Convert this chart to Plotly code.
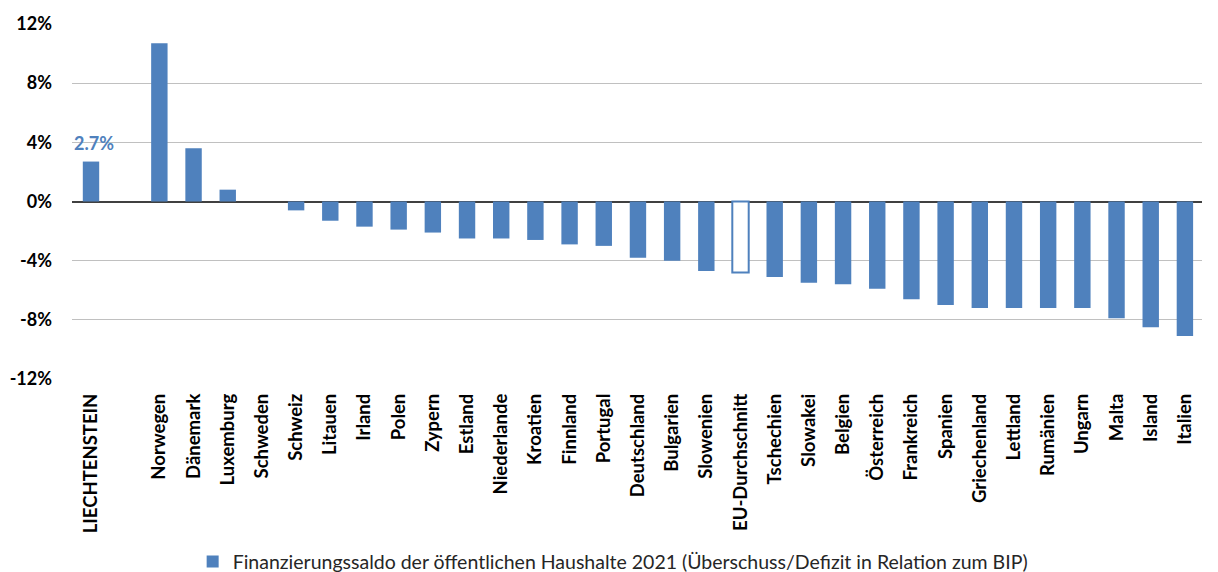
import plotly.graph_objects as go

# Öffentlicher Finanzierungssaldo 2021 in % des BIP
countries = [
    "LIECHTENSTEIN", " ", "Norwegen", "Dänemark", "Luxemburg", "Schweden",
    "Schweiz", "Litauen", "Irland", "Polen", "Zypern", "Estland",
    "Niederlande", "Kroatien", "Finnland", "Portugal", "Deutschland",
    "Bulgarien", "Slowenien", "EU-Durchschnitt", "Tschechien", "Slowakei",
    "Belgien", "Österreich", "Frankreich", "Spanien", "Griechenland",
    "Lettland", "Rumänien", "Ungarn", "Malta", "Island", "Italien",
]
balance = [
    2.7, None, 10.7, 3.6, 0.8, 0.0,
    -0.6, -1.3, -1.7, -1.9, -2.1, -2.5,
    -2.5, -2.6, -2.9, -3.0, -3.8,
    -4.0, -4.7, -4.8, -5.1, -5.5,
    -5.6, -5.9, -6.6, -7.0, -7.2,
    -7.2, -7.2, -7.2, -7.9, -8.5, -9.1,
]
y_ticks = [12, 8, 4, 0, -4, -8, -12]
y_tick_text = ["12%", "8%", "4%", "0%", "-4%", "-8%", "-12%"]
series_name = ("Finanzierungssaldo der öffentlichen Haushalte 2021 "
               "(Überschuss/Defizit in Relation zum BIP)")
highlight = "LIECHTENSTEIN"
average = "EU-Durchschnitt"

BLUE = "#4f81bd"
FONT = "Lato"

fill = ["white" if c == average else BLUE for c in countries]
edge_w = [2 if c == average else 0 for c in countries]

fig = go.Figure(
    go.Bar(
        x=countries,
        y=balance,
        name=series_name,
        marker=dict(color=fill, line=dict(color=BLUE, width=edge_w)),
        showlegend=True,
    )
)

hi_val = balance[countries.index(highlight)]
fig.add_annotation(
    x=highlight, y=hi_val, text=f"{hi_val:.1f}%",
    showarrow=False, yanchor="bottom", yshift=6, xshift=3,
    font=dict(family=FONT, size=18, color=BLUE, weight="bold"),
)

fig.update_layout(
    width=1218, height=572,
    margin=dict(l=72, r=16, t=24, b=193, autoexpand=False),
    plot_bgcolor="white", paper_bgcolor="white",
    bargap=0.52,
    font=dict(family=FONT, color="black"),
    legend=dict(
        orientation="h", xref="container", yref="container",
        x=0.503, y=0.018, xanchor="center", yanchor="middle",
        font=dict(family=FONT, size=19.5, color="#262626"),
        itemwidth=30,
    ),
)
fig.update_xaxes(
    type="category", tickangle=-90, showgrid=False, showline=False,
    ticks="", ticklabelstandoff=10, automargin=False,
    tickfont=dict(family=FONT, size=18.5, weight="bold"),
)
fig.update_yaxes(
    range=[-12, 12], tickvals=y_ticks, ticktext=y_tick_text,
    showgrid=True, gridcolor="#c0c0c0", gridwidth=1,
    zeroline=True, zerolinecolor="#404040", zerolinewidth=1.5,
    showline=False, ticks="", ticklabelstandoff=19, automargin=False,
    tickfont=dict(family=FONT, size=18, weight="bold"),
)

fig.write_html("out.html")
